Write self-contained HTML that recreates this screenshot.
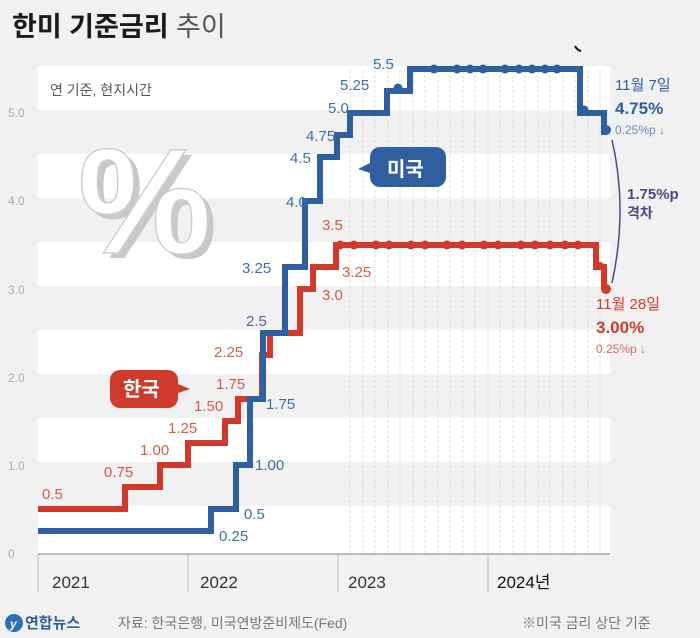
<!DOCTYPE html>
<html><head><meta charset="utf-8"><style>
html,body{margin:0;padding:0;background:#f1f1f1;}
svg{display:block;font-family:"Liberation Sans","Noto Sans CJK KR",sans-serif;}
</style></head><body>
<svg width="700" height="638" viewBox="0 0 700 638" xmlns="http://www.w3.org/2000/svg">
<rect width="700" height="638" fill="#f1f1f1"/>
<g fill="#ffffff">
<rect x="38" y="66" width="572" height="44"/>
<rect x="38" y="154" width="572" height="44"/>
<rect x="38" y="242" width="572" height="44"/>
<rect x="38" y="330" width="572" height="44"/>
<rect x="38" y="418" width="572" height="44"/>
<rect x="38" y="506" width="572" height="47"/>
</g>
<g stroke="#dcdcdc" stroke-width="1" stroke-dasharray="3,2">
<line x1="350" y1="70" x2="350" y2="553"/><line x1="363" y1="70" x2="363" y2="553"/><line x1="375" y1="70" x2="375" y2="553"/><line x1="388" y1="70" x2="388" y2="553"/><line x1="400" y1="70" x2="400" y2="553"/><line x1="413" y1="70" x2="413" y2="553"/><line x1="425" y1="70" x2="425" y2="553"/><line x1="438" y1="70" x2="438" y2="553"/><line x1="450" y1="70" x2="450" y2="553"/><line x1="463" y1="70" x2="463" y2="553"/><line x1="475" y1="70" x2="475" y2="553"/><line x1="488" y1="70" x2="488" y2="553"/><line x1="500" y1="70" x2="500" y2="553"/><line x1="513" y1="70" x2="513" y2="553"/><line x1="525" y1="70" x2="525" y2="553"/><line x1="538" y1="70" x2="538" y2="553"/><line x1="550" y1="70" x2="550" y2="553"/><line x1="563" y1="70" x2="563" y2="553"/><line x1="575" y1="70" x2="575" y2="553"/><line x1="588" y1="70" x2="588" y2="553"/><line x1="600" y1="70" x2="600" y2="553"/>
</g>
<text x="12" y="36" font-size="27" font-weight="bold" fill="#1a1a1a">한미 기준금리 <tspan font-weight="normal" fill="#555">추이</tspan></text>
<rect x="38" y="66" width="140" height="44" fill="#fff"/>
<text x="50" y="95" font-size="14" fill="#555">연 기준, 현지시간</text>
<!-- big percent -->
<text x="84" y="258" font-size="150" font-weight="bold" fill="#c8c8c8">%</text>
<text x="78" y="253" font-size="150" font-weight="bold" fill="#ffffff" stroke="#cfcfcf" stroke-width="1.5">%</text>
<g font-size="12" fill="#aaa">
<text x="8" y="117">5.0</text><text x="8" y="205">4.0</text><text x="8" y="294">3.0</text><text x="8" y="382">2.0</text><text x="8" y="470">1.0</text><text x="8" y="558">0</text>
</g>
<line x1="38" y1="554" x2="610" y2="554" stroke="#bbb" stroke-width="2"/>
<g stroke="#bbb" stroke-width="1">
<line x1="38" y1="554" x2="38" y2="592"/><line x1="188" y1="554" x2="188" y2="592"/><line x1="338" y1="554" x2="338" y2="592"/><line x1="488" y1="554" x2="488" y2="592"/>
</g>
<g font-size="17" fill="#333">
<text x="52" y="588">2021</text><text x="200" y="588">2022</text><text x="348" y="588">2023</text><text x="497" y="588" fill="#111">2024년</text>
</g>
<polyline fill="none" stroke="#cf3a2c" stroke-width="6" stroke-linejoin="miter"
points="38,509 125,509 125,487 160,487 160,465 188,465 188,443 225,443 225,421 238,421 238,399 262,399 262,355 270,355 270,333 300,333 300,289 313,289 313,267 336,267 336,245 596,245 596,267 604,267 604,289"/>
<g fill="#cf3a2c">
<circle cx="340" cy="245" r="4.5"/><circle cx="354" cy="245" r="4.5"/><circle cx="376" cy="245" r="4.5"/><circle cx="389" cy="245" r="4.5"/><circle cx="411" cy="245" r="4.5"/><circle cx="425" cy="245" r="4.5"/><circle cx="447" cy="245" r="4.5"/><circle cx="462" cy="245" r="4.5"/><circle cx="484" cy="245" r="4.5"/><circle cx="498" cy="245" r="4.5"/><circle cx="521" cy="245" r="4.5"/><circle cx="535" cy="245" r="4.5"/><circle cx="550" cy="245" r="4.5"/><circle cx="565" cy="245" r="4.5"/><circle cx="578" cy="245" r="4.5"/><circle cx="600" cy="266" r="4"/><circle cx="606" cy="289" r="5"/>
</g>
<polyline fill="none" stroke="#2f5f9e" stroke-width="6"
points="38,531 211,531 211,509 236,509 236,465 250,465 250,399 263,399 263,333 285,333 285,267 305,267 305,201 320,201 320,157 337,157 337,135 350,135 350,113 387,113 387,91 410,91 410,69 580,69 580,113 604,113 604,135"/>
<g fill="#2f5f9e">
<circle cx="398" cy="88" r="4.5"/>
<circle cx="434" cy="69" r="4.5"/><circle cx="457" cy="69" r="4.5"/><circle cx="470" cy="69" r="4.5"/><circle cx="483" cy="69" r="4.5"/><circle cx="505" cy="69" r="4.5"/><circle cx="519" cy="69" r="4.5"/><circle cx="532" cy="69" r="4.5"/><circle cx="545" cy="69" r="4.5"/><circle cx="557" cy="69" r="4.5"/>
<circle cx="584" cy="110" r="4.5"/><circle cx="606" cy="130" r="5"/>
</g>
<g font-size="15" fill="#cf5a4a">
<text x="42" y="499">0.5</text><text x="104" y="477">0.75</text><text x="140" y="455">1.00</text><text x="168" y="433">1.25</text><text x="194" y="411">1.50</text><text x="216" y="389">1.75</text><text x="214" y="357">2.25</text><text x="322" y="300">3.0</text><text x="342" y="277">3.25</text><text x="322" y="230">3.5</text>
</g>
<g font-size="15" fill="#3b6ea8">
<text x="219" y="541">0.25</text><text x="244" y="519">0.5</text><text x="255" y="470">1.00</text><text x="266" y="409">1.75</text><text x="242" y="273">3.25</text><text x="286" y="207">4.0</text><text x="290" y="163">4.5</text><text x="306" y="141">4.75</text><text x="328" y="113">5.0</text><text x="340" y="90">5.25</text><text x="373" y="69">5.5</text>
</g>
<text x="246" y="326" font-size="15" fill="#6a5aa0">2.5</text>
<path d="M380,147 h56 a10,10 0 0 1 10,10 v20 a10,10 0 0 1 -10,10 h-56 a10,10 0 0 1 -10,-10 v-4 l-12,-4 l12,-6 v-6 a10,10 0 0 1 10,-10z" fill="#2f5f9e"/>
<text x="387" y="176" font-size="20" font-weight="bold" fill="#fff">미국</text>
<path d="M120,370 h48 a10,10 0 0 1 10,10 v4 l12,5 l-12,4 v5 a10,10 0 0 1 -10,10 h-48 a10,10 0 0 1 -10,-10 v-18 a10,10 0 0 1 10,-10z" fill="#cf3a2c"/>
<text x="123" y="396" font-size="20" font-weight="bold" fill="#fff">한국</text>
<text x="615" y="90" font-size="15" fill="#2f5f9e">11월 7일</text>
<text x="615" y="114" font-size="17" font-weight="bold" fill="#2f5f9e">4.75%</text>
<text x="615" y="134" font-size="12" fill="#6a8ab8">0.25%p ↓</text>
<path d="M612,140 Q628,210 612,283" fill="none" stroke="#4a4a80" stroke-width="1.5"/>
<text x="627" y="199" font-size="15" font-weight="bold" fill="#4a4a80">1.75%p</text>
<text x="627" y="218" font-size="14" font-weight="bold" fill="#4a4a80">격차</text>
<text x="596" y="309" font-size="15" fill="#cf3a2c">11월 28일</text>
<text x="596" y="333" font-size="17" font-weight="bold" fill="#cf3a2c">3.00%</text>
<text x="596" y="353" font-size="12" fill="#d07060">0.25%p ↓</text>
<path d="M575,46 q2,4 6,5" stroke="#111" stroke-width="2" fill="none"/>
<circle cx="14" cy="623" r="9" fill="#2f6fb8"/>
<text x="10" y="628" font-size="12" font-weight="bold" fill="#fff" font-style="italic">y</text>
<text x="25" y="628" font-size="15" font-weight="bold" fill="#2f5f9e">연합뉴스</text>
<text x="118" y="628" font-size="14" fill="#777">자료: 한국은행, 미국연방준비제도(Fed)</text>
<text x="522" y="628" font-size="14" fill="#777">※미국 금리 상단 기준</text>
</svg>
</body></html>
